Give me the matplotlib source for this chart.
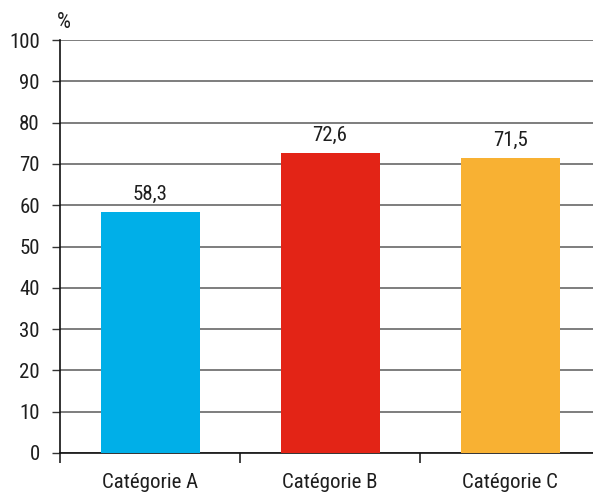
import matplotlib
matplotlib.use("Agg")
import matplotlib.pyplot as plt

categories = ["Catégorie A", "Catégorie B", "Catégorie C"]
values = [58.3, 72.6, 71.5]
value_labels = ["58,3", "72,6", "71,5"]
colors = ["#00AFE8", "#E32416", "#F8B133"]
yticks = [0, 10, 20, 30, 40, 50, 60, 70, 80, 90, 100]

plt.rcParams['font.family'] = ['Roboto Condensed', 'DejaVu Sans']
FS = 15
TXT = "#1e1e1e"

W, H = 593, 492
fig = plt.figure(figsize=(W / 100, H / 100), dpi=100)
ax = fig.add_axes([60 / W, 39 / H, (W - 60) / W, 413 / H])

x = list(range(len(categories)))
ax.bar(x, values, width=0.55, color=colors, zorder=3)
for xi, v, lab in zip(x, values, value_labels):
    ax.annotate(lab, (xi, v), xytext=(0, 8.6), textcoords="offset points",
                ha="center", va="baseline", fontsize=FS, color=TXT)

ax.set_yticks(yticks)
ax.set_yticklabels([str(t) for t in yticks], fontsize=FS, color=TXT)
ax.yaxis.grid(True, color="#5a5a5a", linewidth=1.1, zorder=0)
ax.tick_params(axis="y", length=6, width=1, color="#333333", pad=8.5)

ax.set_xticks([-0.5, 0.5, 1.5])
ax.set_xticklabels([])
ax.set_xticks(x, minor=True)
ax.set_xticklabels(categories, minor=True, fontsize=FS, color=TXT)
ax.tick_params(axis="x", which="major", length=7, width=1.2, color="#222222")
ax.tick_params(axis="x", which="minor", length=0, pad=14.5)

ax.set_ylim(0, 100)
ax.set_xlim(-0.5, -0.5 + (W - 60) / 180)

for s in ["top", "right"]:
    ax.spines[s].set_visible(False)
for s in ["left", "bottom"]:
    ax.spines[s].set_color("#111111")
    ax.spines[s].set_linewidth(1.2)

fig.text(57 / W, 1 - 28 / H, "%", fontsize=16, color=TXT, ha="left", va="baseline")

fig.savefig("out.png", dpi=100)
